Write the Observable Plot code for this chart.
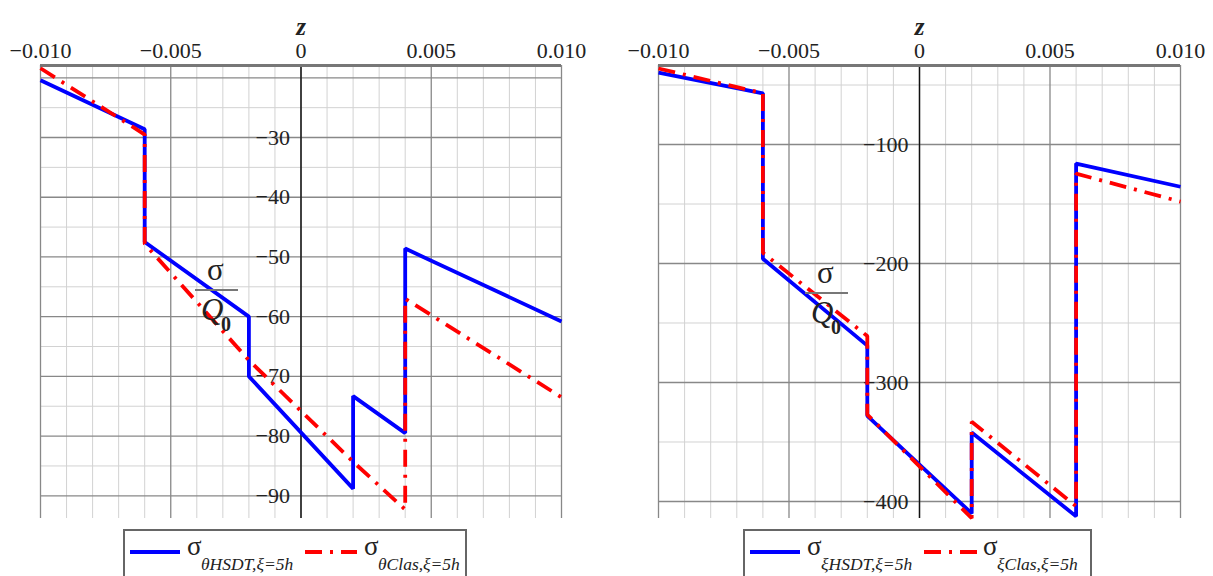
<!DOCTYPE html>
<html><head><meta charset="utf-8">
<script src="https://cdn.jsdelivr.net/npm/d3@7"></script>
<script src="https://cdn.jsdelivr.net/npm/@observablehq/plot@0.6"></script>
<style>
html,body{margin:0;padding:0;background:#fff;}
#page{position:relative;width:1213px;height:576px;overflow:hidden;font-family:'Liberation Serif','Times New Roman',serif;color:#222;}
.abs{position:absolute;white-space:nowrap;line-height:1;}
.chart{position:absolute;top:0;}
.legend{position:absolute;top:529px;height:60px;border:2px solid #666;box-sizing:border-box;}
.sig{font-size:27px;}
.sub{font-size:17.5px;font-style:italic;}
.frac-s{font-size:31px;}
.frac-q{font-size:31px;font-style:italic;}
.frac-0{font-size:20px;font-weight:bold;}
.bar{position:absolute;height:2px;background:#777;}
</style></head><body><div id="page"></div>
<script>
// ---- axes / ticks ----
const xTicks = [-0.010, -0.005, 0, 0.005, 0.010];
const xTickLabels = ["−0.010", "−0.005", "0", "0.005", "0.010"];
const xMinorTicks = [-0.009, -0.008, -0.007, -0.006, -0.004, -0.003, -0.002, -0.001,
                     0.001, 0.002, 0.003, 0.004, 0.006, 0.007, 0.008, 0.009];

// left chart (sigma_theta)
const yDomainLeft = [-93.8, -17.94];
const yMajorLeft = [-20, -30, -40, -50, -60, -70, -80, -90];
const yMinorLeft = [-25, -35, -45, -55, -65, -75, -85];
const yLabelTicksLeft = [-30, -40, -50, -60, -70, -80, -90];
const yLabelsLeft = ["−30", "−40", "−50", "−60", "−70", "−80", "−90"];
const zThetaHSDT = [-0.010, -0.006, -0.006, -0.002, -0.002, 0.002, 0.002, 0.004, 0.004, 0.010];
const sigmaThetaHSDT = [-20.4, -28.6, -47.5, -60.0, -70.0, -88.8, -73.3, -79.5, -48.6, -60.8];
const zThetaClas = [-0.010, -0.006, -0.006, -0.002, 0, 0.002, 0.004, 0.004, 0.010];
const sigmaThetaClas = [-18.4, -29.5, -47.8, -67.3, -75.8, -84.3, -92.3, -57.0, -73.5];

// right chart (sigma_xi)
const yDomainRight = [-414.3, -33.6];
const yMajorRight = [-100, -200, -300, -400];
const yMinorRight = [-50, -150, -250, -350];
const yLabelTicksRight = [-100, -200, -300, -400];
const yLabelsRight = ["−100", "−200", "−300", "−400"];
const zXiHSDT = [-0.010, -0.006, -0.006, -0.002, -0.002, 0.002, 0.002, 0.006, 0.006, 0.010];
const sigmaXiHSDT = [-39.5, -57, -196, -269, -328, -410, -342, -412.5, -116, -135.5];
const zXiClas = [-0.010, -0.006, -0.006, -0.002, -0.002, 0.002, 0.002, 0.006, 0.006, 0.010];
const sigmaXiClas = [-36.1, -57, -191, -261, -327, -414, -333, -404, -124.5, -148];

const BLUE = "#0000ff", RED = "#ff0000", DASH = "17,8,3,8";

function rows(z, v) { return z.map((d, i) => ({z: d, v: v[i]})); }

function makeChart(c) {
  return Plot.plot({
    width: c.width, height: 525,
    marginLeft: c.ml, marginRight: c.mr, marginTop: 65, marginBottom: 7,
    x: {domain: [-0.010, 0.010], axis: null},
    y: {domain: c.yDomain, axis: null},
    style: {fontFamily: "'Liberation Serif','Times New Roman',serif", fontSize: "22px", color: "#222", background: "transparent", overflow: "visible"},
    marks: [
      Plot.gridX(xMinorTicks, {stroke: "#d2d2d2", strokeOpacity: 1, strokeWidth: 1}),
      Plot.gridY(c.yMinor, {stroke: "#d2d2d2", strokeOpacity: 1, strokeWidth: 1}),
      Plot.gridX(xTicks, {stroke: "#888", strokeOpacity: 1, strokeWidth: 1.3}),
      Plot.gridY(c.yMajor, {stroke: "#888", strokeOpacity: 1, strokeWidth: 1.3}),
      Plot.ruleX([0], {stroke: "#111", strokeWidth: 1.4}),
      Plot.ruleY([c.yDomain[1]], {stroke: "#777", strokeWidth: 3}),
      Plot.axisX({anchor: "top", ticks: xTicks, tickFormat: d => xTickLabels[xTicks.indexOf(d)],
                  tickSize: 0, tickPadding: 8, fontSize: 22, label: null}),
      Plot.text(["z"], {frameAnchor: "top", lineAnchor: "middle", dy: -39, text: d => d, fontSize: 25, fontStyle: "italic", fontWeight: "bold"}),
      Plot.text(c.yLabelTicks, {x: () => 0, y: d => d, text: (d, i) => c.yLabels[i], textAnchor: "end", dx: -11, fontSize: 22}),
      Plot.line(rows(c.zB, c.vB), {x: "z", y: "v", stroke: BLUE, strokeWidth: 3.8, strokeLinejoin: "miter", strokeLinecap: "butt"}),
      Plot.line(rows(c.zR, c.vR), {x: "z", y: "v", stroke: RED, strokeWidth: 3.8, strokeDasharray: DASH, strokeLinejoin: "miter", strokeLinecap: "butt"})
    ]
  });
}

const page = document.getElementById("page");

const left = makeChart({width: 606, ml: 40, mr: 45, yDomain: yDomainLeft, yMajor: yMajorLeft, yMinor: yMinorLeft,
  yLabelTicks: yLabelTicksLeft, yLabels: yLabelsLeft, zB: zThetaHSDT, vB: sigmaThetaHSDT, zR: zThetaClas, vR: sigmaThetaClas});
left.classList.add("chart"); left.style.left = "0px";
page.appendChild(left);

const right = makeChart({width: 607, ml: 52, mr: 33, yDomain: yDomainRight, yMajor: yMajorRight, yMinor: yMinorRight,
  yLabelTicks: yLabelTicksRight, yLabels: yLabelsRight, zB: zXiHSDT, vB: sigmaXiHSDT, zR: zXiClas, vR: sigmaXiClas});
right.classList.add("chart"); right.style.left = "606px";
page.appendChild(right);

// helpers for overlay text
function addText(txt, cls, x, top) {
  const s = document.createElement("div");
  s.className = "abs " + cls; s.textContent = txt;
  s.style.left = x + "px"; s.style.top = top + "px";
  page.appendChild(s); return s;
}
function addFraction(dx, dy) {
  addText("σ", "frac-s", 207 + dx, 254 + dy);
  const b = document.createElement("div"); b.className = "bar";
  b.style.left = (195 + dx) + "px"; b.style.top = (289 + dy) + "px"; b.style.width = "43px";
  page.appendChild(b);
  addText("Q", "frac-q", 201 + dx, 294 + dy);
  addText("0", "frac-0", 221 + dx, 314 + dy);
}
addFraction(0, 0);
addFraction(610, 3);

function addLegend(boxLeft, boxWidth, items) {
  const box = document.createElement("div"); box.className = "legend";
  box.style.left = boxLeft + "px"; box.style.width = boxWidth + "px";
  page.appendChild(box);
  items.forEach(it => {
    const svg = d3.create("svg").attr("width", it.x2 - it.x1).attr("height", 8)
      .style("position", "absolute").style("left", it.x1 + "px").style("top", "548px");
    svg.append("line").attr("x1", 0).attr("x2", it.x2 - it.x1).attr("y1", 4).attr("y2", 4)
      .attr("stroke", it.color).attr("stroke-width", 3.8).attr("stroke-dasharray", it.dash || null);
    page.appendChild(svg.node());
    addText("σ", "sig", it.sx, 533);
    addText(it.sub, "sub", it.sx + 14, 556);
  });
}
const legendLeftLabels = ["θHSDT,ξ=5h", "θClas,ξ=5h"];
const legendRightLabels = ["ξHSDT,ξ=5h", "ξClas,ξ=5h"];
addLegend(123, 344, [
  {x1: 130, x2: 180, color: BLUE, sx: 187, sub: legendLeftLabels[0]},
  {x1: 305, x2: 357, color: RED, dash: DASH, sx: 364, sub: legendLeftLabels[1]}
]);
addLegend(743, 349, [
  {x1: 750, x2: 800, color: BLUE, sx: 807, sub: legendRightLabels[0]},
  {x1: 924, x2: 977, color: RED, dash: DASH, sx: 983, sub: legendRightLabels[1]}
]);
</script></body></html>
